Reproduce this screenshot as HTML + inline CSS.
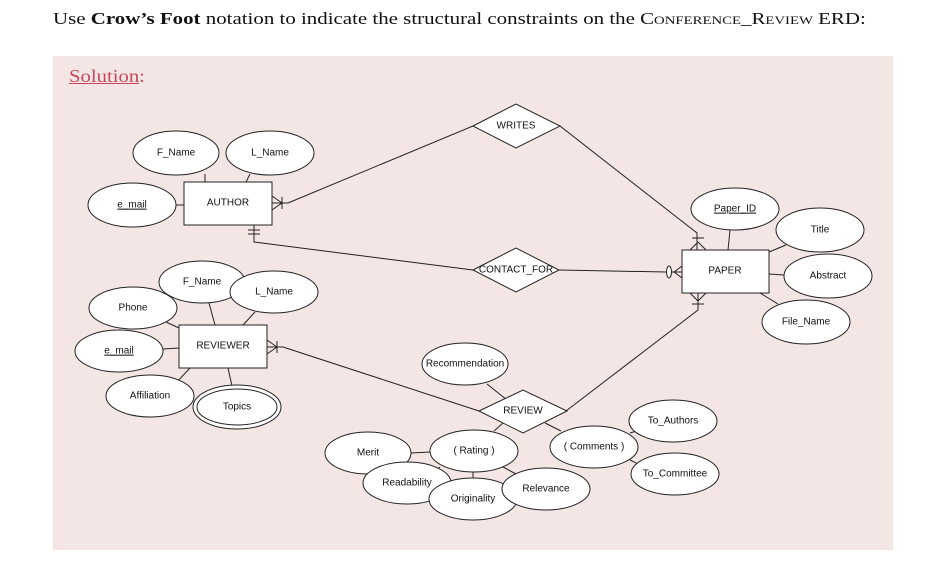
<!DOCTYPE html>
<html><head><meta charset="utf-8"><style>
body{margin:0;width:927px;height:566px;background:#fff;overflow:hidden;position:relative}
.h{position:absolute;left:53px;top:9px;font:17px "Liberation Serif",serif;color:#111;white-space:nowrap;transform:scaleX(1.23);transform-origin:0 0}
.sc{font-variant:small-caps}
.p{position:absolute;left:53px;top:56px;width:840px;height:494px;background:#f5e6e6}
.s{position:absolute;left:69px;top:66px;font:18px "Liberation Serif",serif;color:#c8475b;transform:scaleX(1.15);transform-origin:0 0}
svg{position:absolute;left:0;top:0}
text{font-family:"Liberation Sans",sans-serif;font-size:10px;fill:#111;text-anchor:middle;dominant-baseline:middle}
</style></head><body>
<div class="h">Use <b>Crow’s Foot</b> notation to indicate the structural constraints on the <span class="sc">Conference_Review</span> ERD:</div>
<div class="p"></div>
<div class="s"><u>Solution</u>:</div>
<svg width="927" height="566" stroke="#222" stroke-width="1" fill="none">
<g>
<line x1="205" y1="174" x2="205" y2="182"/><line x1="250" y1="174" x2="246" y2="182"/><line x1="176" y1="205" x2="184" y2="205"/>
<polyline points="288,203 473,126"/><polyline points="560,126 697,233 697,250"/>
<polyline points="254,225 254,242 473,270"/><line x1="559" y1="270" x2="666" y2="272"/>
<polyline points="698,293 698,310 566,411"/><polyline points="283,347 479,411"/>
<line x1="730" y1="230" x2="728" y2="250"/><line x1="769" y1="252" x2="786" y2="245"/><line x1="769" y1="274" x2="784" y2="275"/><line x1="760" y1="293" x2="778" y2="304"/>
<line x1="209" y1="303" x2="215" y2="325"/><line x1="255" y1="312" x2="243" y2="325"/><line x1="166" y1="322" x2="179" y2="328"/><line x1="163" y1="349" x2="179" y2="348"/><line x1="175" y1="384" x2="190" y2="368"/><line x1="232" y1="386" x2="228" y2="368"/>
<line x1="487" y1="384" x2="507" y2="400"/><line x1="503" y1="423" x2="494" y2="431"/><line x1="545" y1="423" x2="561" y2="431"/>
<line x1="411" y1="453" x2="430" y2="452"/><line x1="473" y1="472" x2="473" y2="478"/><line x1="503" y1="467" x2="516" y2="474"/><line x1="440" y1="467" x2="432" y2="474"/>
<line x1="630" y1="433" x2="640" y2="430"/><line x1="630" y1="460" x2="640" y2="465"/>
<line x1="272" y1="196" x2="282" y2="203"/><line x1="272" y1="210" x2="282" y2="203"/><line x1="272" y1="203" x2="288" y2="203"/><line x1="282" y1="197" x2="282" y2="209"/>
<line x1="267" y1="340" x2="277" y2="347"/><line x1="267" y1="354" x2="277" y2="347"/><line x1="267" y1="347" x2="283" y2="347"/><line x1="277" y1="341" x2="277" y2="353"/>
<line x1="248" y1="230" x2="260" y2="230"/><line x1="248" y1="234" x2="260" y2="234"/>
<line x1="690" y1="250" x2="698" y2="242"/><line x1="706" y1="250" x2="698" y2="242"/><line x1="692" y1="238" x2="704" y2="238"/>
<line x1="690" y1="293" x2="698" y2="301"/><line x1="706" y1="293" x2="698" y2="301"/><line x1="692" y1="304" x2="704" y2="304"/>
<line x1="682" y1="266" x2="674" y2="272"/><line x1="682" y1="278" x2="674" y2="272"/><line x1="670" y1="272" x2="682" y2="272"/>
<ellipse cx="669" cy="272" rx="2.5" ry="6" fill="#fff"/>
</g>
<g fill="#fff">
<rect x="184" y="182" width="88" height="43"/><rect x="682" y="250" width="87" height="43"/><rect x="179" y="325" width="88" height="43"/>
<polygon points="473,126 516,104 560,126 516,148"/><polygon points="473,270 516,248 559,270 516,292"/><polygon points="479,411 523,390 567,411 523,433"/>
<ellipse cx="176" cy="153" rx="43" ry="22"/><ellipse cx="270" cy="153" rx="44" ry="22"/><ellipse cx="132" cy="205" rx="44" ry="22"/>
<ellipse cx="735" cy="209" rx="44" ry="21"/><ellipse cx="820" cy="230" rx="44" ry="22"/><ellipse cx="828" cy="276" rx="44" ry="22"/><ellipse cx="806" cy="322" rx="44" ry="22"/>
<ellipse cx="133" cy="308" rx="44" ry="21"/><ellipse cx="202" cy="282" rx="43" ry="21"/><ellipse cx="274" cy="292" rx="44" ry="21"/><ellipse cx="119" cy="351" rx="44" ry="21"/><ellipse cx="150" cy="396" rx="44" ry="21"/>
<ellipse cx="237" cy="407" rx="44" ry="22"/><ellipse cx="237" cy="407" rx="40" ry="18"/>
<ellipse cx="465" cy="364" rx="43" ry="21"/>
<ellipse cx="368" cy="453" rx="43" ry="21"/><ellipse cx="474" cy="451" rx="44" ry="21"/><ellipse cx="407" cy="483" rx="44" ry="21"/><ellipse cx="473" cy="499" rx="44" ry="21"/><ellipse cx="546" cy="489" rx="44" ry="21"/>
<ellipse cx="594" cy="447" rx="44" ry="21"/><ellipse cx="673" cy="421" rx="44" ry="21"/><ellipse cx="675" cy="474" rx="44" ry="21"/>
</g>
<g stroke="none">
<text x="228" y="203">AUTHOR</text><text x="725" y="271">PAPER</text><text x="223" y="346">REVIEWER</text>
<text x="516" y="126">WRITES</text><text x="516" y="270">CONTACT_FOR</text><text x="523" y="411">REVIEW</text>
<text x="176" y="153">F_Name</text><text x="270" y="153">L_Name</text><text x="132" y="205" text-decoration="underline">e_mail</text>
<text x="735" y="209" text-decoration="underline">Paper_ID</text><text x="820" y="230">Title</text><text x="828" y="276">Abstract</text><text x="806" y="322">File_Name</text>
<text x="133" y="308">Phone</text><text x="202" y="282">F_Name</text><text x="274" y="292">L_Name</text><text x="119" y="351" text-decoration="underline">e_mail</text><text x="150" y="396">Affiliation</text><text x="237" y="407">Topics</text>
<text x="465" y="364">Recommendation</text>
<text x="368" y="453">Merit</text><text x="407" y="483">Readability</text><text x="474" y="451">( Rating )</text><text x="473" y="499">Originality</text><text x="546" y="489">Relevance</text>
<text x="594" y="447">( Comments )</text><text x="673" y="421">To_Authors</text><text x="675" y="474">To_Committee</text>
</g>
</svg>
</body></html>
